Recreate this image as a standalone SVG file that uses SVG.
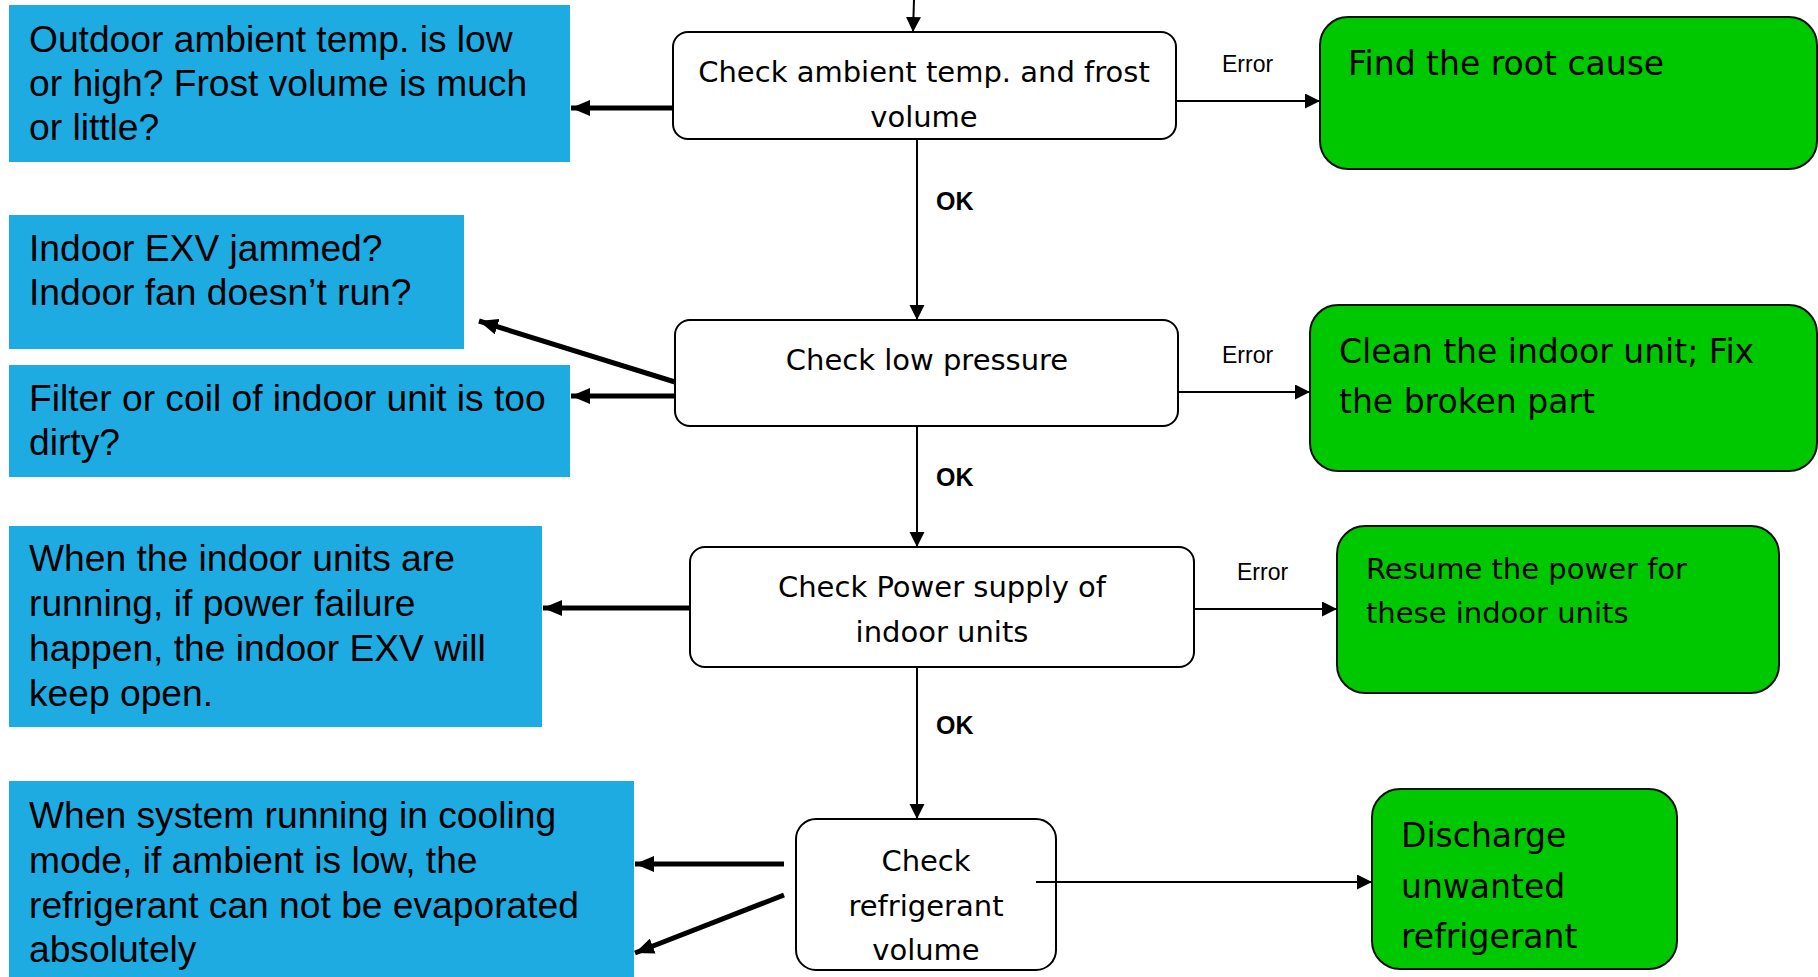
<svg xmlns="http://www.w3.org/2000/svg" width="1818" height="977" viewBox="0 0 1818 977">
<style>
.blue{fill:#1EABE2;}
.bt{font-family:"Liberation Sans",Arial,sans-serif;font-size:37.2px;fill:#000;}
.chk{fill:#fff;stroke:#000;stroke-width:2;}
.ct{font-family:"DejaVu Sans",sans-serif;font-size:29px;fill:#000;text-anchor:middle;}
.grn{fill:#00C800;stroke:#111;stroke-width:2;}
.gt{font-family:"DejaVu Sans",sans-serif;font-size:33px;fill:#000;}
.gs{font-family:"DejaVu Sans",sans-serif;font-size:29px;fill:#000;}
.thin{stroke:#000;stroke-width:2;fill:none;}
.thick{stroke:#000;stroke-width:5;fill:none;}
.ok{font-family:"Liberation Sans",Arial,sans-serif;font-size:25px;font-weight:bold;fill:#000;}
.err{font-family:"Liberation Sans",Arial,sans-serif;font-size:23px;fill:#000;}
</style>
<defs>
<marker id="ah" markerUnits="userSpaceOnUse" markerWidth="16" markerHeight="16" refX="15" refY="7.5" orient="auto">
<path d="M0,0 L15,7.5 L0,15 z" fill="#000"/>
</marker>
<marker id="ahk" markerUnits="userSpaceOnUse" markerWidth="20" markerHeight="16" refX="19" refY="8" orient="auto">
<path d="M0,0 L19,8 L0,16 z" fill="#000"/>
</marker>
</defs>

<g id="blue1">
<rect class="blue" x="9" y="5" width="561" height="157"/>
<text class="bt" x="29" y="52">Outdoor ambient temp. is low</text>
<text class="bt" x="29" y="96">or high? Frost volume is much</text>
<text class="bt" x="29" y="140">or little?</text>
</g>
<g id="blue2">
<rect class="blue" x="9" y="215" width="455" height="134"/>
<text class="bt" x="29" y="261">Indoor EXV jammed?</text>
<text class="bt" x="29" y="305">Indoor fan doesn’t run?</text>
</g>
<g id="blue3">
<rect class="blue" x="9" y="365" width="561" height="112"/>
<text class="bt" x="29" y="411">Filter or coil of indoor unit is too</text>
<text class="bt" x="29" y="455">dirty?</text>
</g>
<g id="blue4">
<rect class="blue" x="9" y="526" width="533" height="201"/>
<text class="bt" x="29" y="571">When the indoor units are</text>
<text class="bt" x="29" y="616">running, if power failure</text>
<text class="bt" x="29" y="661">happen, the indoor EXV will</text>
<text class="bt" x="29" y="706">keep open.</text>
</g>
<g id="blue5">
<rect class="blue" x="9" y="781" width="625" height="196"/>
<text class="bt" x="29" y="828">When system running in cooling</text>
<text class="bt" x="29" y="873">mode, if ambient is low, the</text>
<text class="bt" x="29" y="918">refrigerant can not be evaporated</text>
<text class="bt" x="29" y="962">absolutely</text>
</g>

<g id="check1">
<rect class="chk" x="673" y="32" width="503" height="107" rx="15"/>
<text class="ct" x="924" y="82">Check ambient temp. and frost</text>
<text class="ct" x="924" y="127">volume</text>
</g>
<g id="check2">
<rect class="chk" x="675" y="320" width="503" height="106" rx="15"/>
<text class="ct" x="927" y="370">Check low pressure</text>
</g>
<g id="check3">
<rect class="chk" x="690" y="547" width="504" height="120" rx="15"/>
<text class="ct" x="942" y="597">Check Power supply of</text>
<text class="ct" x="942" y="642">indoor units</text>
</g>
<g id="check4">
<rect class="chk" x="796" y="819" width="260" height="151" rx="20"/>
<text class="ct" x="926" y="871">Check</text>
<text class="ct" x="926" y="916">refrigerant</text>
<text class="ct" x="926" y="960">volume</text>
</g>

<g id="green1">
<rect class="grn" x="1320" y="17" width="497" height="152" rx="28"/>
<text class="gt" x="1348" y="75">Find the root cause</text>
</g>
<g id="green2">
<rect class="grn" x="1310" y="305" width="507" height="166" rx="28"/>
<text class="gt" x="1339" y="363">Clean the indoor unit; Fix</text>
<text class="gt" x="1339" y="413">the broken part</text>
</g>
<g id="green3">
<rect class="grn" x="1337" y="526" width="442" height="167" rx="28"/>
<text class="gs" x="1366" y="579">Resume the power for</text>
<text class="gs" x="1366" y="623">these indoor units</text>
</g>
<g id="green4">
<rect class="grn" x="1372" y="789" width="305" height="180" rx="28"/>
<text class="gt" x="1401" y="847">Discharge</text>
<text class="gt" x="1401" y="898">unwanted</text>
<text class="gt" x="1401" y="948">refrigerant</text>
</g>

<g id="connectors">
<line class="thin" x1="914" y1="0" x2="913" y2="32" marker-end="url(#ah)"/>
<line class="thin" x1="917" y1="139" x2="917" y2="320" marker-end="url(#ah)"/>
<line class="thin" x1="917" y1="426" x2="917" y2="547" marker-end="url(#ah)"/>
<line class="thin" x1="917" y1="667" x2="917" y2="819" marker-end="url(#ah)"/>
<line class="thin" x1="1176" y1="101" x2="1320" y2="101" marker-end="url(#ah)"/>
<line class="thin" x1="1178" y1="392" x2="1310" y2="392" marker-end="url(#ah)"/>
<line class="thin" x1="1194" y1="609" x2="1337" y2="609" marker-end="url(#ah)"/>
<line class="thin" x1="1036" y1="882" x2="1372" y2="882" marker-end="url(#ah)"/>
<line class="thick" x1="673" y1="108" x2="571" y2="108" marker-end="url(#ahk)"/>
<line class="thick" x1="675" y1="382" x2="479" y2="321" marker-end="url(#ahk)"/>
<line class="thick" x1="675" y1="396" x2="571" y2="396" marker-end="url(#ahk)"/>
<line class="thick" x1="690" y1="608" x2="543" y2="608" marker-end="url(#ahk)"/>
<line class="thick" x1="784" y1="864" x2="635" y2="864" marker-end="url(#ahk)"/>
<line class="thick" x1="784" y1="895" x2="635" y2="953" marker-end="url(#ahk)"/>
<text class="ok" x="936" y="210">OK</text>
<text class="ok" x="936" y="486">OK</text>
<text class="ok" x="936" y="734">OK</text>
<text class="err" x="1222" y="72">Error</text>
<text class="err" x="1222" y="363">Error</text>
<text class="err" x="1237" y="580">Error</text>
</g>
</svg>
